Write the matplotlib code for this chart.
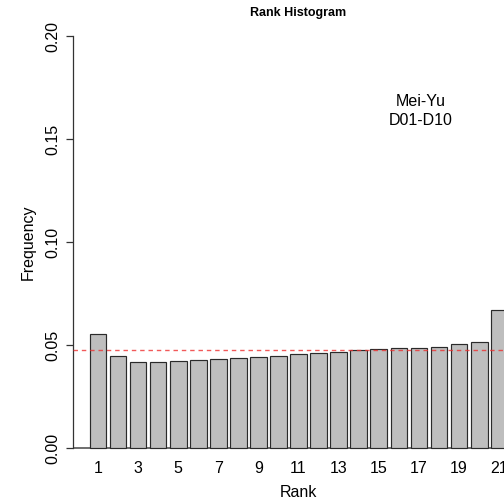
import matplotlib
matplotlib.use("Agg")
import matplotlib.pyplot as plt
import numpy as np

# Relative frequency of each verification rank
ranks = list(range(1, 22))
frequency = [0.0555, 0.0447, 0.0420, 0.0417, 0.0422, 0.0430, 0.0435,
             0.0438, 0.0443, 0.0447, 0.0456, 0.0461, 0.0466, 0.0479,
             0.0482, 0.0485, 0.0488, 0.0493, 0.0508, 0.0515, 0.0670]
rank_labels = [str(r) for r in ranks]
shown_labels = [1, 3, 5, 7, 9, 11, 13, 15, 17, 19, 21]
y_ticks = [0.00, 0.05, 0.10, 0.15, 0.20]
uniform_level = 1 / 21
case_name = "Mei-Yu"
domain_name = "D01-D10"

plt.rcParams['font.family'] = ['Liberation Sans', 'DejaVu Sans']

W, H = 504, 501
fig = plt.figure(figsize=(W / 100, H / 100), dpi=100)

# plot region in pixels (extends past the right edge of the canvas)
left_px, right_px = 72.8, 524.3
top_px, bottom_px = 19.8, 464.8
ax = fig.add_axes([left_px / W, 1 - bottom_px / H,
                   (right_px - left_px) / W, (bottom_px - top_px) / H])

# bar layout like a base-R barplot: width 1, space 0.2
centers = 0.7 + 1.2 * np.arange(len(ranks))
ax.bar(centers, frequency, width=1.0, color="#BEBEBE",
       edgecolor="#2a2a2a", linewidth=0.85, zorder=2)

ax.set_xlim(-0.8, 26.2)
ax.set_ylim(-0.008, 0.208)

# uniform reference line
ax.axhline(uniform_level, color="#EE3030", linestyle=(0, (3.2, 2.8)),
           linewidth=1.0, alpha=0.8, zorder=3)
# zero line
ax.axhline(0, color="#555555", linewidth=1.2, zorder=1)

for side in ["top", "right", "bottom"]:
    ax.spines[side].set_visible(False)
ax.spines["left"].set_bounds(0, 0.2)
ax.spines["left"].set_color("#333333")
ax.spines["left"].set_linewidth(0.9)

ax.set_yticks(y_ticks)
ax.set_yticklabels([f"{v:.2f}" for v in y_ticks], rotation=90,
                   va="center", fontsize=11.5)
ax.tick_params(axis="y", length=4.8, width=0.9, color="#333333", pad=4.0)

idx = [ranks.index(r) for r in shown_labels]
ax.set_xticks(centers[idx])
ax.set_xticklabels([rank_labels[i] for i in idx], fontsize=11.5)
ax.tick_params(axis="x", length=0, pad=-3.0)

fig.text(421 / W, 1 - 106 / H, case_name, ha="center", va="baseline",
         fontsize=11.5)
fig.text(421 / W, 1 - 125.3 / H, domain_name, ha="center", va="baseline",
         fontsize=11.5)

fig.text(298 / W, 1 - 15.7 / H, "Rank Histogram", ha="center",
         va="baseline", fontsize=9, fontweight="bold")
fig.text(298 / W, 1 - 497.3 / H, "Rank", ha="center", va="baseline",
         fontsize=11.5)
fig.text(28 / W, 1 - 242.5 / H, "Frequency", ha="center", va="center",
         rotation=90, fontsize=11.5)

fig.savefig("out.png", dpi=100)
